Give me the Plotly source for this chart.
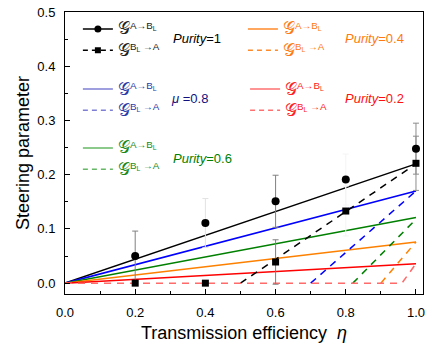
import plotly.graph_objects as go

# экспериментальные точки
eta = [0.2, 0.4, 0.6, 0.8, 1.0]
g_ab = [0.050, 0.111, 0.151, 0.191, 0.248]
g_ab_err = [0.046, 0.045, 0.048, 0.047, 0.047]
g_ba = [0.0, 0.0, 0.039, 0.133, 0.221]
g_ba_err = [0.0, 0.0, 0.041, 0.046, 0.05]
err_colors = ["#808080", "#e2e2e2", "#808080", "#f4f4f4", "#8c8c8c"]

# теоретические кривые (по чистоте состояния)
colors = ["#000000", "#0000ff", "#008000", "#ff8000", "#ff0000"]
ab_x = [0.0, 1.0]
ab_end = [0.220, 0.170, 0.121, 0.076, 0.036]
ba_from = [0.50, 0.70, 0.82, 0.90, 0.0]   # где начинается видимый пунктир
ba_onset = [0.50, 0.70, 0.82, 0.90, 0.96]
ba_end = [0.220, 0.170, 0.118, 0.076, 0.036]

FONT = "Liberation Sans, Arial, sans-serif"
G = "<span style='font-size:17px'>𝒢</span>"
G_AB = G + "<sup>A→B<sub>L</sub></sup>"
G_BA = G + "<sup>B<sub>L</sub> →A</sup>"

fig = go.Figure()

# сплошные линии
for c, e in zip(colors, ab_end):
    fig.add_trace(go.Scatter(x=ab_x, y=[0, e], mode="lines",
                             line=dict(color=c, width=1.5), showlegend=False))

# пунктирные линии
for c, xs, x0, e in zip(colors, ba_from, ba_onset, ba_end):
    lc = "#ff6a6a" if c == "#ff0000" else c
    fig.add_trace(go.Scatter(x=[xs, x0, 1.0], y=[0, 0, e], mode="lines",
                             line=dict(color=lc, width=1.5, dash="7px,6px"),
                             showlegend=False))

# погрешности
for i in range(len(eta)):
    for yv, ev in ((g_ab[i], g_ab_err[i]), (g_ba[i], g_ba_err[i])):
        if ev == 0:
            continue
        fig.add_trace(go.Scatter(x=[eta[i]], y=[yv], mode="markers",
                                 marker=dict(size=1, color="rgba(0,0,0,0)"),
                                 error_y=dict(type="data", array=[ev], color=err_colors[i],
                                              thickness=1, width=3),
                                 showlegend=False))

fig.add_trace(go.Scatter(x=eta, y=g_ab, mode="markers",
                         marker=dict(symbol="circle", size=8, color="black"), showlegend=False))
fig.add_trace(go.Scatter(x=eta, y=g_ba, mode="markers",
                         marker=dict(symbol="square", size=7, color="black"), showlegend=False))

# легенды
leg_pos = [(0.036, 0.995), (0.036, 0.782), (0.036, 0.573), (0.497, 0.995), (0.503, 0.782)]
leg_sample = ["#000000", "#7f7fd6", "#66b866", "#ff8a2a", "#ff7070"]
leg_text = ["#222222", "#2a3aa8", "#1a8a1a", "#ff7a10", "#ff2020"]
for k in range(5):
    name = "legend" if k == 0 else "legend%d" % (k + 1)
    mode = "lines+markers" if k == 0 else "lines"
    fig.add_trace(go.Scatter(x=[None], y=[None], mode=mode, name=G_AB, legend=name,
                             line=dict(color=leg_sample[k], width=1.5),
                             marker=dict(symbol="circle", size=7, color=leg_sample[k])))
    fig.add_trace(go.Scatter(x=[None], y=[None], mode=mode, name=G_BA, legend=name,
                             line=dict(color=leg_sample[k], width=1.5, dash="5px,4px"),
                             marker=dict(symbol="square", size=6, color=leg_sample[k])))
    fig.update_layout({name: dict(x=leg_pos[k][0], y=leg_pos[k][1], xanchor="left", yanchor="top",
                                  bgcolor="rgba(0,0,0,0)", borderwidth=0, itemwidth=30,
                                  tracegroupgap=0,
                                  font=dict(family=FONT, size=14, color=leg_text[k]))})

lab_pos = [(0.296, 0.905), (0.291, 0.693), (0.296, 0.48), (0.777, 0.905), (0.777, 0.693)]
lab_col = ["#000000", "#101080", "#008000", "#ff7a10", "#ff1010"]
lab_txt = ["<i>Purity</i>=1", "<i>μ</i> =0.8", "<i>Purity</i>=0.6", "<i>Purity</i>=0.4", "<i>Purity</i>=0.2"]
for (x, y), c, t in zip(lab_pos, lab_col, lab_txt):
    fig.add_annotation(x=x, y=y, xref="paper", yref="paper", text=t, showarrow=False,
                       xanchor="left", yanchor="middle", font=dict(family=FONT, size=13, color=c))

axis = dict(showline=True, linecolor="black", linewidth=1, mirror=True, ticks="inside",
            ticklen=5, tickcolor="black", showgrid=False, zeroline=False, automargin=False,
            tickfont=dict(family=FONT, size=13, color="black"))
fig.update_xaxes(range=[0, 1.02], tick0=0, dtick=0.2, tickformat=".1f", ticklabelstandoff=6,
                 minor=dict(ticks="inside", ticklen=3, dtick=0.1, tickcolor="black"),
                 title=dict(text="Transmission efficiency  <i>η</i>", standoff=7,
                            font=dict(family=FONT, size=18, color="black")), **axis)
fig.update_yaxes(range=[-0.02, 0.5], tick0=0, dtick=0.1, tickformat=".1f", ticklabelstandoff=6,
                 minor=dict(ticks="inside", ticklen=3, dtick=0.05, tickcolor="black"),
                 title=dict(text="Steering parameter", standoff=3,
                            font=dict(family=FONT, size=18, color="black")), **axis)

fig.update_layout(width=436, height=349, margin=dict(l=65, r=13, t=12, b=55),
                  plot_bgcolor="white", paper_bgcolor="white")

# убрать поле страницы по умолчанию (8px) и панель инструментов
fig.write_html("out.html", config={"displayModeBar": False},
               post_script="document.body.style.margin='0';")
